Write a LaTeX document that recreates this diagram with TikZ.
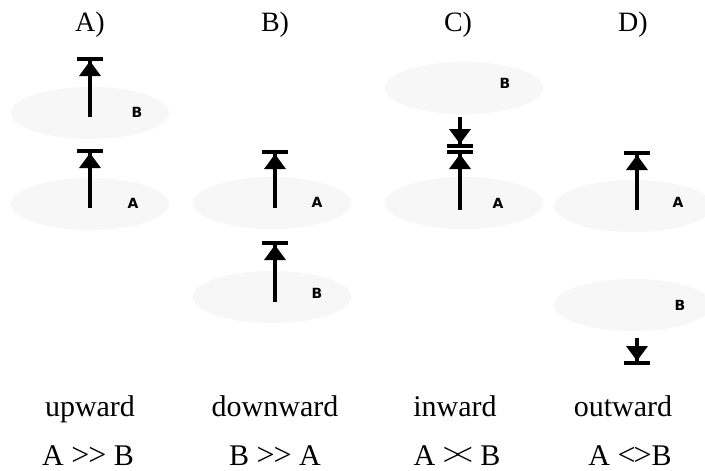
\documentclass[tikz,border=0pt]{standalone}
\usepackage{fontspec}
\setmainfont{Liberation Serif}
\newfontfamily\tagfont{DejaVu Sans}
\usetikzlibrary{shapes.geometric,arrows.meta}

% slightly larger relation signs for the captions
\newcommand\relsign[1]{{\fontsize{32pt}{32pt}\selectfont#1}}

\tikzset{
  layer/.style={ellipse, fill=gray!6, minimum width=158pt, minimum height=52pt},
  tag/.style={font=\tagfont\bfseries\fontsize{14pt}{14pt}\selectfont},
  head/.style={anchor=base, font=\fontsize{28pt}{30pt}\selectfont},
  note/.style={anchor=base, font=\fontsize{30pt}{32pt}\selectfont},
  push/.style={line width=3.5pt, -{Triangle[width=21pt,length=15pt,sep=0pt]Bar[width=26pt,line width=4pt]}}
}

\begin{document}
\begin{tikzpicture}[x=1pt, y=1pt, every node/.style={inner sep=0pt}]
\useasboundingbox (0,0) rectangle (705,-471);
% column headings
\node (hA) [head] at (90, -31) {A)};
\node (hB) [head] at (275, -31) {B)};
\node (hC) [head] at (458, -31) {C)};
\node (hD) [head] at (633, -31) {D)};
% layers
\node (a2) [layer] at (90, -113) {};
\node (a1) [layer] at (90, -204) {};
\node (b1) [layer] at (272, -203) {};
\node (b2) [layer] at (272, -297) {};
\node (c2) [layer] at (464, -88) {};
\node (c1) [layer] at (464, -203) {};
\node (d1) [layer] at (633, -206) {};
\node (d2) [layer] at (633, -305) {};
% layer tags
\node (ta2) [tag] at (137, -112) {B};
\node (ta1) [tag] at (133, -203) {A};
\node (tb1) [tag] at (317, -202) {A};
\node (tb2) [tag] at (317, -293) {B};
\node (tc2) [tag] at (505, -83) {B};
\node (tc1) [tag] at (498, -203) {A};
\node (td1) [tag] at (678, -202) {A};
\node (td2) [tag] at (680, -305) {B};
% arrow ends
\coordinate (pa2) at (90, -117);  \coordinate (qa2) at (90, -57);
\coordinate (pa1) at (90, -208);  \coordinate (qa1) at (90, -149);
\coordinate (pb1) at (275, -208); \coordinate (qb1) at (275, -150);
\coordinate (pb2) at (275, -302); \coordinate (qb2) at (275, -241);
\coordinate (pc2) at (460, -117); \coordinate (qc2) at (460, -148);
\coordinate (pc1) at (460, -210); \coordinate (qc1) at (460, -150);
\coordinate (pd1) at (637, -210); \coordinate (qd1) at (637, -151);
\coordinate (pd2) at (637, -338); \coordinate (qd2) at (637, -365);
\draw [push] (pa2) -- (qa2);
\draw [push] (pa1) -- (qa1);
\draw [push] (pb1) -- (qb1);
\draw [push] (pb2) -- (qb2);
\draw [push] (pc2) -- (qc2);
\draw [push] (pc1) -- (qc1);
\draw [push] (pd1) -- (qd1);
\draw [push] (pd2) -- (qd2);
% captions
\node (nA) [note] at (90, -416) {upward};
\node (nB) [note] at (275, -416) {downward};
\node (nC) [note] at (455, -416) {inward};
\node (nD) [note] at (623, -416) {outward};
\node (rA) [note] at (88, -465) {A \relsign{>\kern-1pt>} B};
\node (rB) [note] at (275, -465) {B \relsign{>\kern-1pt>} A};
\node (rC) [note] at (457, -465) {A \relsign{>\kern-6pt<} B};
\node (rD) [note] at (630, -465) {A \relsign{<\kern-2pt>}B};
\end{tikzpicture}
\end{document}
